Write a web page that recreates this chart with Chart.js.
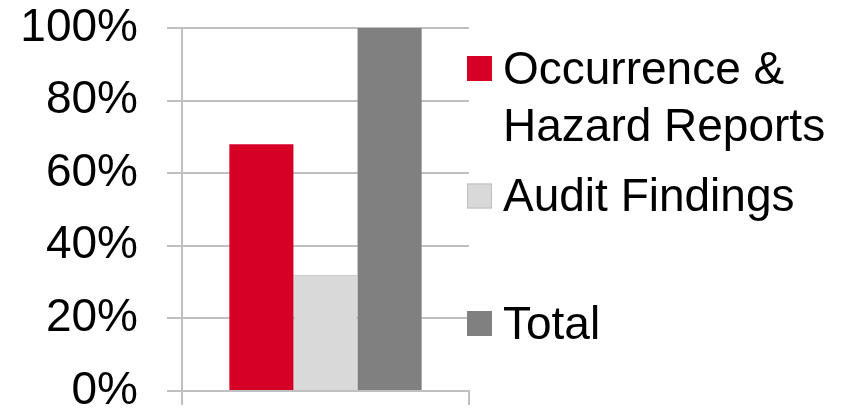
<!DOCTYPE html>
<html>
<head>
<meta charset="utf-8">
<script src="https://cdn.jsdelivr.net/npm/chart.js@4"></script>
<style>
  html, body { margin: 0; padding: 0; background: #fff; }
  #wrap { width: 858px; height: 409px; }
</style>
</head>
<body>
<div id="wrap"><canvas id="myChart" width="858" height="409"></canvas></div>
<script>
const categories = [""];
const series_names = ["Occurrence & Hazard Reports", "Audit Findings", "Total"];
const legend_lines = [["Occurrence &", "Hazard Reports"], ["Audit Findings"], ["Total"]];
const occurrence_values = [68];
const audit_values = [32];
const total_values = [100];
const y_ticks = [0, 20, 40, 60, 80, 100];

const FONT = "'Liberation Sans', Arial, sans-serif";
const colors = ["#D60027", "#D9D9D9", "#808080"];
const borders = ["#D60027", "#BFBFBF", "#808080"];

// legend drawn by hand so the first label can wrap on two lines
const sideLegend = {
  id: "sideLegend",
  afterDraw(chart) {
    const ctx = chart.ctx;
    const area = chart.chartArea;
    const x = area.right - 2;
    const step = 127.5;
    ctx.save();
    ctx.font = "46px " + FONT;
    ctx.textBaseline = "alphabetic";
    ctx.textAlign = "left";
    chart.data.datasets.forEach((ds, i) => {
      const cy = area.top + 40.5 + i * step;
      ctx.fillStyle = ds.backgroundColor;
      ctx.fillRect(x, cy - 12.5, 25, 25);
      if (ds.borderColor !== ds.backgroundColor) {
        ctx.strokeStyle = ds.borderColor;
        ctx.lineWidth = 1;
        ctx.strokeRect(x + 0.5, cy - 12, 24, 24);
      }
      ctx.fillStyle = "#000";
      legend_lines[i].forEach((line, j) => {
        ctx.fillText(line, x + 36, cy + 15 + j * 57);
      });
    });
    ctx.restore();
  },
};

const values = [occurrence_values, audit_values, total_values];

const data = {
  labels: categories,
  datasets: series_names.map((name, i) => ({
    label: name,
    data: values[i],
    backgroundColor: colors[i],
    borderColor: borders[i],
    borderWidth: i === 1 ? 1 : 0,
    categoryPercentage: 0.67,
    barPercentage: 1.0,
  })),
};

const config = {
  type: "bar",
  data: data,
  options: {
    responsive: false,
    animation: false,
    layout: { padding: { left: 0, right: 389, top: 28, bottom: 0 } },
    plugins: {
      legend: { display: false },
      tooltip: { enabled: false },
    },
    scales: {
      x: {
        ticks: { display: false },
        grid: {
          offset: true,
          drawOnChartArea: false,
          color: "#C0C0C0",
          lineWidth: 2,
          tickLength: 14,
        },
        border: { color: "#C0C0C0", width: 2 },
        afterFit(scale) { scale.height = 18; },
      },
      y: {
        min: 0,
        max: 100,
        afterBuildTicks(scale) {
          scale.ticks = y_ticks.map((v) => ({ value: v }));
        },
        ticks: {
          color: "#000",
          padding: 29,
          font: { family: FONT, size: 46 },
          callback: (v) => v + "%",
        },
        grid: { color: "#C0C0C0", lineWidth: 2, tickLength: 15 },
        border: { color: "#C0C0C0", width: 2 },
        afterFit(scale) {
          scale.width = 182;
          scale.paddingTop = 0;
          scale.paddingBottom = 0;
        },
      },
    },
  },
  plugins: [sideLegend],
};

const myChart = new Chart(document.getElementById("myChart"), config);
</script>
</body>
</html>
